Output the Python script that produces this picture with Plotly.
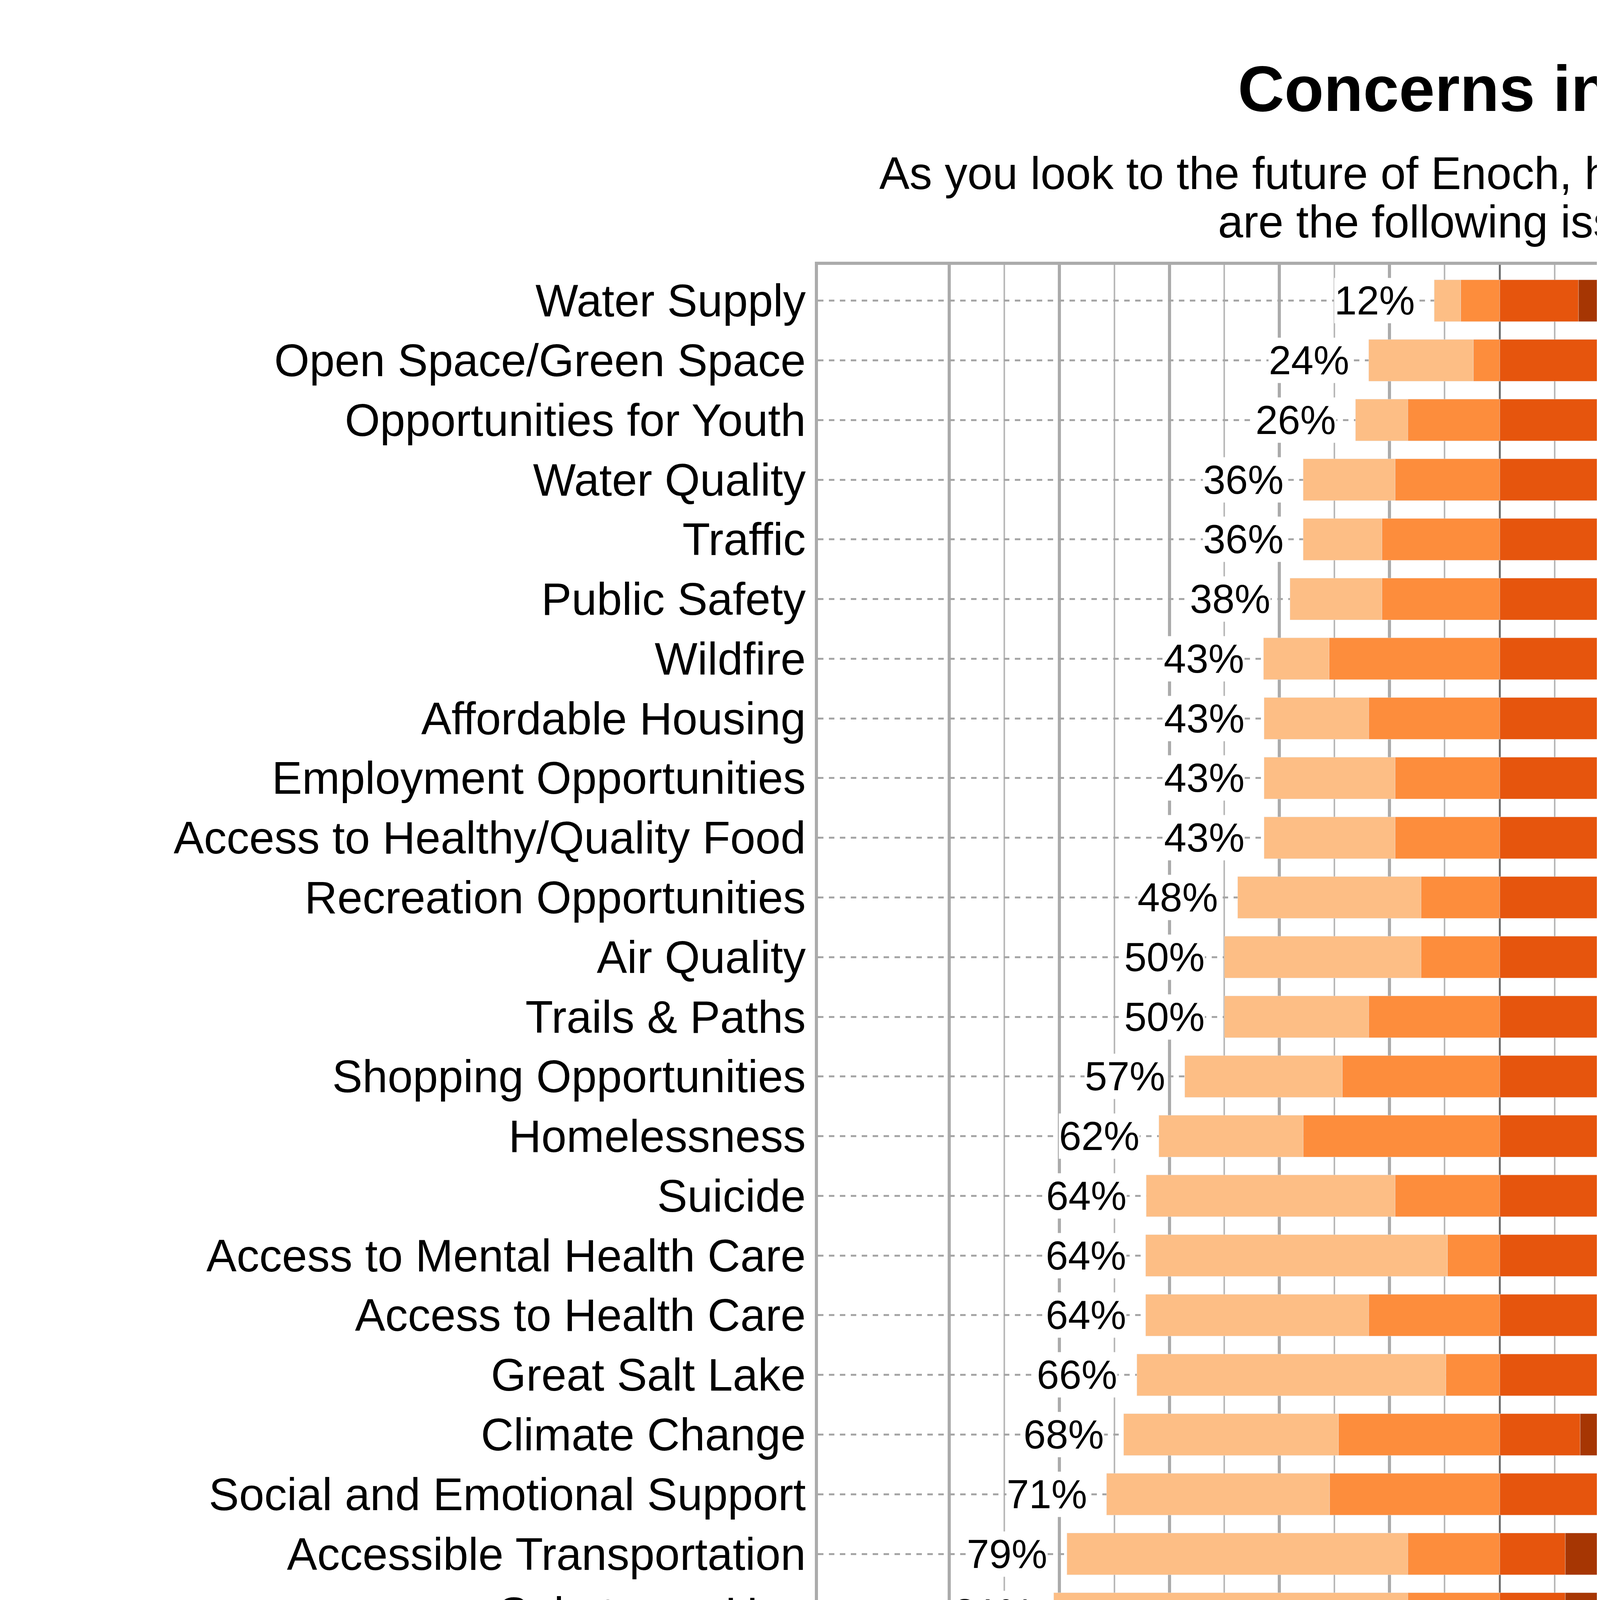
"""Diverging stacked bar chart: concerns in Enoch."""
import plotly.graph_objects as go

FONT = "Liberation Sans, Arial, sans-serif"

issues = [
    "Water Supply", "Open Space/Green Space", "Opportunities for Youth",
    "Water Quality", "Traffic", "Public Safety", "Wildfire",
    "Affordable Housing", "Employment Opportunities",
    "Access to Healthy/Quality Food", "Recreation Opportunities",
    "Air Quality", "Trails & Paths", "Shopping Opportunities",
    "Homelessness", "Suicide", "Access to Mental Health Care",
    "Access to Health Care", "Great Salt Lake", "Climate Change",
    "Social and Emotional Support", "Accessible Transportation",
    "Substance Use", "Access to Culturally Appropriate Food",
    "Access to Substance Use Treatment",
]
# percent of respondents
not_concern = [4.8, 19.0, 9.5, 16.7, 14.3, 16.7, 11.9, 19.0, 23.8, 23.8,
               33.3, 35.7, 26.2, 28.6, 26.2, 45.2, 54.8, 40.5, 56.1, 39.0,
               40.5, 61.9, 64.3, 66.7, 73.2]
slight = [7.1, 4.8, 16.7, 19.0, 21.4, 21.4, 31.0, 23.8, 19.0, 19.0,
          14.3, 14.3, 23.8, 28.6, 35.7, 19.0, 9.5, 23.8, 9.8, 29.3,
          30.9, 16.7, 16.7, 16.7, 14.6]
moderate = [14.3, 35.7, 38.1, 19.0, 31.0, 33.3, 23.8, 26.2, 31.0, 42.9,
            26.2, 23.8, 28.6, 21.4, 23.8, 21.4, 21.4, 26.2, 22.0, 14.6,
            23.8, 11.9, 11.9, 11.9, 7.3]
major = [73.8, 40.5, 35.7, 45.2, 33.3, 28.6, 33.3, 31.0, 26.2, 14.3,
         26.2, 26.2, 21.4, 21.4, 14.3, 14.3, 14.3, 9.5, 12.2, 17.1,
         4.8, 9.5, 7.1, 4.8, 4.9]

levels = ["Not A Concern At All", "Slight Concern", "Moderate Concern", "Major Concern"]
colors = ["#FDBE85", "#FD8D3C", "#E6550D", "#A63603"]
tick_vals = [-100, -80, -60, -40, -20, 0, 20, 40, 60, 80, 100]
minor_vals = [-90, -70, -50, -30, -10, 10, 30, 50, 70, 90]

S = 1.0     # overall scale; the page is 6000x5400 at S = 1
OFF = 8     # body margin pushes the figure in
W, H = 6000 * S - OFF, 5400 * S - OFF
# plot panel in page pixels (S = 1): x 2094..5747, y 678..4528
L, R, T, B = 2094 * S - OFF, 253 * S, 678 * S - OFF, 872 * S
PW, PH = W - L - R, H - T - B


def fx(px):
    return (px - 2094) * S / PW


def fy(py):
    return (H - B - (py * S - OFF)) / PH


def fnt(size):
    return dict(family=FONT, size=size * S, color="black")


fig = go.Figure()
# negatives stack outward from zero: slight first, then not-at-all
fig.add_trace(go.Bar(y=issues, x=[-v for v in slight], name=levels[1],
                     marker_color=colors[1], orientation="h", width=0.7))
fig.add_trace(go.Bar(y=issues, x=[-v for v in not_concern], name=levels[0],
                     marker_color=colors[0], orientation="h", width=0.7))
fig.add_trace(go.Bar(y=issues, x=moderate, name=levels[2],
                     marker_color=colors[2], orientation="h", width=0.7))
fig.add_trace(go.Bar(y=issues, x=major, name=levels[3],
                     marker_color=colors[3], orientation="h", width=0.7))

annotations = []
for i, name in enumerate(issues):
    neg = not_concern[i] + slight[i]
    pos = moderate[i] + major[i]
    annotations.append(dict(x=-neg, y=name, xref="x", yref="y", text=f"{neg:.0f}%",
                            showarrow=False, xanchor="right", yanchor="middle",
                            xshift=-49 * S, borderpad=0, bgcolor="white",
                            font=fnt(103)))
    annotations.append(dict(x=pos, y=name, xref="x", yref="y", text=f"{pos:.0f}%",
                            showarrow=False, xanchor="left", yanchor="middle",
                            xshift=49 * S, borderpad=0, bgcolor="white",
                            font=fnt(103)))

# subtitle, two centred lines
for txt, py in [("As you look to the future of Enoch, how much of a concern", 444),
                ("are the following issues?", 568)]:
    annotations.append(dict(x=fx(3753), y=fy(py), xref="paper", yref="paper",
                            text=txt, showarrow=False, xanchor="center",
                            yanchor="middle", font=fnt(116)))

# x axis title
annotations.append(dict(x=0.5, y=fy(4805), xref="paper", yref="paper",
                        text="Percent of Respondents", showarrow=False,
                        xanchor="center", yanchor="middle", font=fnt(112)))

# legend drawn by hand so swatches match the reference size
shapes = []
swatch_x = [836, 2242, 3367, 4696]
for lvl, col, sx in zip(levels, colors, swatch_x):
    shapes.append(dict(type="rect", xref="paper", yref="paper",
                       x0=fx(sx), x1=fx(sx + 138), y0=fy(5145), y1=fy(5007),
                       fillcolor=col, line=dict(width=0)))
    annotations.append(dict(x=fx(sx + 229), y=fy(5096), xref="paper", yref="paper",
                            text=lvl, showarrow=False, xanchor="left",
                            yanchor="middle", font=fnt(113)))

fig.update_layout(
    width=W, height=H,
    margin=dict(l=L, r=R, t=T, b=B, pad=0),
    barmode="relative",
    showlegend=False,
    plot_bgcolor="white", paper_bgcolor="white",
    font=fnt(113),
    title=dict(text="<b>Concerns in Enoch</b>", x=0.5, xref="paper", xanchor="center",
               y=1 - (226 * S - OFF) / H, yref="container", yanchor="middle",
               font=fnt(165)),
    annotations=annotations,
    shapes=shapes,
)
fig.update_xaxes(
    range=[-123.8, 135.3], tickvals=tick_vals,
    ticktext=[f"{abs(v)}%" for v in tick_vals],
    tickfont=fnt(110),
    ticks="outside", ticklen=25 * S, tickwidth=6 * S, tickcolor="#333333",
    ticklabelstandoff=round(-40 * S),
    showgrid=True, gridcolor="#ABABAB", gridwidth=8 * S,
    minor=dict(tickvals=minor_vals, showgrid=True, gridcolor="#B8B8B8",
               gridwidth=4 * S, ticks=""),
    zeroline=True, zerolinecolor="#6E6E6E", zerolinewidth=5 * S,
    showline=True, linecolor="#ABABAB", linewidth=8 * S, mirror=True,
)
fig.update_yaxes(
    type="category", categoryorder="array", categoryarray=issues,
    range=[len(issues) - 0.4, -0.6], autorange=False,
    tickfont=fnt(116), ticks="",
    showgrid=True, gridcolor="#A6A6A6", gridwidth=5 * S,
    griddash=f"{14 * S}px,{14 * S}px",
    zeroline=False,
    showline=True, linecolor="#ABABAB", linewidth=8 * S, mirror=True,
)

fig.write_html("out.html")
